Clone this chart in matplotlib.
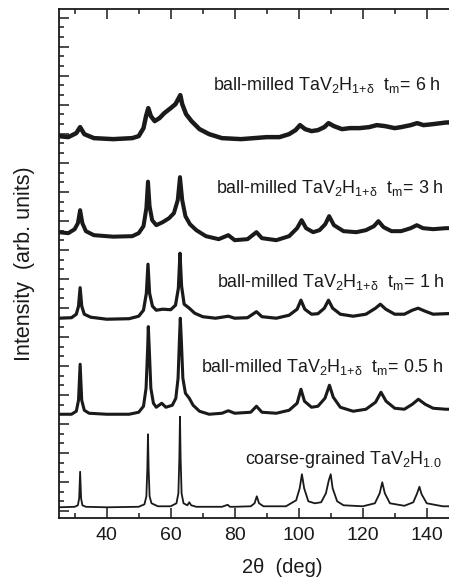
import matplotlib
matplotlib.use("Agg")
import numpy as np
from matplotlib import pyplot as plt
from matplotlib.ticker import MultipleLocator, NullFormatter

# XRD patterns: (2theta, intensity), intensity in arb. units
coarse = [(25, 11), (30.0, 11.5), (31.0, 13), (31.4, 20), (31.7, 46.5), (32.0, 20), (32.4, 13),
          (33.5, 11.5), (40, 11), (50, 11.5), (51.8, 14), (52.4, 22), (52.7, 50), (52.9, 84),
          (53.1, 50), (53.4, 22), (54.0, 15), (56, 12), (60, 12), (61.8, 15), (62.4, 25),
          (62.7, 60), (62.9, 101.5), (63.1, 60), (63.4, 25), (64.0, 15), (65.2, 13), (65.8, 16),
          (66.4, 13), (68, 11.5), (76, 11.5), (77.8, 13.5), (78.5, 11.5), (80, 11.5), (85, 12),
          (86.2, 15), (86.9, 22), (87.6, 15), (89, 12), (96, 12), (99.2, 18), (100.3, 30),
          (101.0, 44), (101.7, 30), (103, 17), (105, 15), (107, 16), (108.5, 25), (109.4, 38),
          (110.0, 44), (110.6, 30), (112, 17), (114, 13), (120, 12), (123.8, 15), (125.3, 25),
          (126.1, 36), (126.9, 25), (128.5, 15), (133, 12.5), (135.8, 16), (137.0, 25),
          (137.7, 31.5), (138.4, 24), (140, 15), (145, 12), (150, 12)]

milled_05h = [(25, 104), (29, 104), (30.5, 107), (31.2, 118), (31.7, 154), (32.2, 118), (33, 108),
              (34.5, 105), (40, 104), (47, 104), (50, 106), (51.5, 112), (52.3, 130), (52.8, 170),
              (53.0, 191.6), (53.3, 170), (53.8, 130), (54.6, 115), (55.5, 111), (57.2, 115),
              (58.5, 111), (60.5, 113), (61.6, 120), (62.3, 140), (62.8, 185), (63.0, 200),
              (63.3, 180), (63.8, 140), (64.6, 125), (65.8, 120), (67, 113), (69, 107), (72, 104),
              (76, 105), (78, 107.5), (80, 105), (85, 106), (86.8, 112), (88.5, 106), (93, 105),
              (97, 108), (99.5, 115), (100.7, 129), (101.8, 117), (104, 111), (106, 112),
              (108.2, 120), (109.6, 133), (110.8, 121), (113, 111), (117, 107), (121, 109),
              (124, 116), (125.7, 126), (127.3, 117), (130, 110), (133, 109), (135.5, 114),
              (137.4, 119), (139.5, 114), (142, 110), (146, 109), (150, 109)]

milled_1h = [(25, 200), (29, 200.5), (30.5, 204), (31.2, 212), (31.7, 230.5), (32.2, 212), (33, 204),
             (35, 201), (40, 199), (47, 199.5), (50, 202), (51.5, 208), (52.4, 225), (52.9, 254),
             (53.4, 225), (54.3, 212), (55.5, 208), (57.5, 209), (60, 208.5), (61.5, 213),
             (62.4, 230), (62.9, 265), (63.4, 232), (64.2, 214), (65.8, 210), (67.5, 205),
             (70, 201.5), (74, 200), (78, 202), (80, 200), (84, 200.5), (86.8, 206.5), (88.5, 201.5),
             (93, 200), (97, 203), (99.5, 209), (100.7, 218), (101.9, 209), (104, 204), (106, 204.5),
             (108, 210), (109.3, 218), (110.6, 210), (113, 204), (117, 202), (121, 204), (124, 210),
             (125.5, 214), (127.2, 209), (130, 204), (133, 204), (135.5, 208), (137.3, 210),
             (139.5, 207), (142, 204), (146, 204.5), (150, 205)]

milled_3h = [(25, 286), (28, 285), (30, 289), (31, 295), (31.7, 308), (32.4, 295), (33.5, 287),
             (36, 283), (42, 281.5), (48, 282), (50, 285), (51.5, 292), (52.4, 310), (52.9, 336.5),
             (53.4, 312), (54.2, 298), (55.5, 293), (57.5, 296), (59.5, 300), (61, 305), (62.2, 318),
             (62.9, 341), (63.6, 318), (64.6, 302), (66, 294), (68, 288), (71, 282), (75, 279),
             (78, 283), (80, 278), (84, 279), (86.8, 286), (88.5, 280), (93, 278), (97, 282),
             (99.5, 290), (100.9, 298), (102.3, 290), (104.5, 286), (106.5, 288), (108.3, 294),
             (109.5, 302), (111, 293), (114, 287), (118, 286), (121, 288), (123.5, 292),
             (124.9, 297), (126.5, 291), (129, 287), (132, 287), (135, 290), (136.9, 293),
             (138.8, 290), (142, 289), (146, 290), (150, 290)]

milled_6h = [(25, 382), (28, 381), (30.5, 385), (31.7, 391), (33, 384), (36, 380), (42, 379),
             (48, 380), (50, 382), (51.5, 390), (52.3, 402), (53, 410), (53.8, 402), (55, 397),
             (56.5, 400), (58, 405), (60, 410), (61.5, 414), (62.5, 420), (63, 423), (63.6, 414),
             (64.8, 404), (66.5, 397), (69, 389), (72, 384), (76, 380), (82, 379), (86, 380),
             (90, 381), (94, 381), (97, 384), (99, 388), (100.4, 393), (102, 389), (104, 387),
             (106, 388), (108, 391), (109.3, 395), (111, 392), (113.5, 389), (116, 390), (119, 390),
             (122, 391), (124.4, 393), (127, 392), (130, 390), (132, 391), (135, 393), (137, 395),
             (139, 393), (142, 394), (146, 395.6), (150, 396)]

labels = [r"coarse-grained TaV$_2$H$_{1.0}$",
          r"ball-milled TaV$_2$H$_{1{+}\delta}$  t$_m$= 0.5 h",
          r"ball-milled TaV$_2$H$_{1{+}\delta}$  t$_m$= 1 h",
          r"ball-milled TaV$_2$H$_{1{+}\delta}$  t$_m$= 3 h",
          r"ball-milled TaV$_2$H$_{1{+}\delta}$  t$_m$= 6 h"]

plt.rcParams["font.family"] = ["Liberation Sans", "DejaVu Sans"]
plt.rcParams["mathtext.fontset"] = "custom"
plt.rcParams["mathtext.rm"] = "Liberation Sans"
plt.rcParams["mathtext.default"] = "regular"

fig = plt.figure(figsize=(4.49, 5.78), dpi=100)
ax = fig.add_axes([0.1307, 0.1033, 0.891, 0.881])

patterns = [coarse, milled_05h, milled_1h, milled_3h, milled_6h]
widths = [1.3, 2.2, 2.3, 2.9, 3.2]
for pat, lw in zip(patterns, widths):
    d = np.array(pat)
    ax.plot(d[:, 0], d[:, 1], color="#1a1a1a", lw=lw, solid_joinstyle="round")

# label anchors (left edge, baseline)
label_pos = [(83.2, 54), (69.6, 146.6), (74.4, 231.6), (74.3, 325), (73.2, 428)]
for (x, y), txt in zip(label_pos, labels):
    ax.text(x, y, txt, fontsize=12.9, color="#1a1a1a", ha="left", va="baseline", clip_on=False)

ax.set_xlim(25, 150)
ax.set_ylim(0, 509)
ax.xaxis.set_major_locator(MultipleLocator(20))
ax.xaxis.set_minor_locator(MultipleLocator(10))
ax.yaxis.set_major_locator(MultipleLocator(29, offset=7.3))
ax.yaxis.set_minor_locator(MultipleLocator(29 / 3, offset=7.3))
ax.yaxis.set_major_formatter(NullFormatter())
ax.tick_params(which="both", direction="in", top=True, right=True, width=1.1, colors="#1a1a1a")
ax.tick_params(which="major", length=7, labelsize=14, pad=6)
ax.tick_params(which="minor", length=3.5)
for s in ax.spines.values():
    s.set_linewidth(1.3)
    s.set_color("#1a1a1a")

ax.set_xlabel("2θ  (deg)", fontsize=14.5, color="#1a1a1a")
ax.set_ylabel("Intensity  (arb. units)", fontsize=15.5, color="#1a1a1a")
ax.xaxis.set_label_coords((282 - 58.7) / 400.0, -0.077)
ax.yaxis.set_label_coords(-0.06, 0.5)

fig.savefig("out.png", dpi=100)
